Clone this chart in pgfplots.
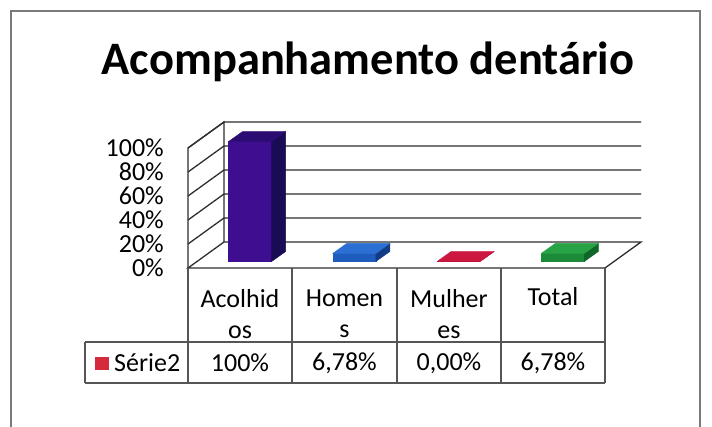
\documentclass[border=0pt]{standalone}
\usepackage{pgfplots}
\pgfplotsset{compat=1.18}
\usepackage{fontspec}
\setmainfont{Carlito}
\definecolor{gridc}{HTML}{2E2E2E}
\definecolor{framec}{HTML}{7A7A7A}
\definecolor{tabc}{HTML}{555555}
\definecolor{fA}{HTML}{3D0E8F}
\definecolor{sA}{HTML}{1A0B55}
\definecolor{tA}{HTML}{2B0C72}
\definecolor{fB}{HTML}{1E5CBE}
\definecolor{sB}{HTML}{123D86}
\definecolor{tB}{HTML}{2C6FD2}
\definecolor{fC}{HTML}{B8102F}
\definecolor{sC}{HTML}{8A0A22}
\definecolor{tC}{HTML}{CC1840}
\definecolor{fD}{HTML}{1C8A38}
\definecolor{sD}{HTML}{106528}
\definecolor{tD}{HTML}{27A245}
\definecolor{legred}{HTML}{D42A3C}
\pgfdeclareplotmark{nothing}{}
\pgfplotsset{
  cuboid/.style n args={3}{
    scatter, only marks, mark=nothing,
    visualization depends on={rawy \as \barval},
    scatter/@pre marker code/.code={%
      \pgfmathsetmacro\yb{6.5-\barval*1.2}%
      \pgfmathsetmacro\yc{16.5-\barval*1.2}%
      \fill[#1] (-11.5pt,\yb pt) rectangle (31.5pt,6.5pt);
      \fill[#2] (31.5pt,\yb pt) -- (45.5pt,\yc pt) -- (45.5pt,16.5pt) -- (31.5pt,6.5pt) -- cycle;
      \fill[#3] (-11.5pt,6.5pt) -- (31.5pt,6.5pt) -- (45.5pt,16.5pt) -- (2.5pt,16.5pt) -- cycle;
    },
    scatter/@post marker code/.code={},
  }
}
\begin{document}
\begin{tikzpicture}[x=1pt,y=1pt]
\useasboundingbox (0,0) rectangle (712,426);
\fill[white] (0,0) rectangle (712,426);
\draw[line width=2pt, framec] (11,-10) -- (11,415) -- (700,415) -- (700,-10);
\node[font=\fontsize{46.5}{50}\selectfont\bfseries] at (368,426-62) {Acompanhamento dentário};
% walls and floor
\begin{scope}[gridc, line width=1.3pt]
\draw (188,158) -- (605,158) -- (641,184) -- (224,184) -- cycle;
\draw (188,158) -- (188,278) -- (224,304) -- (224,184);
\foreach \v in {20,40,60,80,100} {
  \draw (188,158+1.2*\v) -- (224,184+1.2*\v) -- (641,184+1.2*\v);
}
\end{scope}
\begin{axis}[
  at={(188pt,158pt)}, anchor=south west,
  x=104.25pt, y=1.2pt,
  xmin=0, xmax=4, ymin=0, ymax=100,
  clip=false,
  axis x line=none,
  axis y line*=left,
  y axis line style={draw=none},
  ytick={0,20,...,100},
  major tick length=0pt,
  yticklabel={\pgfmathprintnumber{\tick}\%},
  yticklabel style={font=\fontsize{26}{26}\selectfont, anchor=east, inner sep=0pt, xshift=-24pt},
  /pgf/number format/assume math mode=true,
]
\addplot[cuboid={fA}{sA}{tA}] coordinates {(0.5,100)};
\addplot[cuboid={fB}{sB}{tB}] coordinates {(1.5,6.78)};
\addplot[cuboid={fC}{sC}{tC}] coordinates {(2.5,0)};
\addplot[cuboid={fD}{sD}{tD}] coordinates {(3.5,6.78)};
\end{axis}
% data table
\begin{scope}[tabc, line width=1.3pt]
\draw (188,158) -- (188,43);
\draw (292,158) -- (292,43);
\draw (397,158) -- (397,43);
\draw (501,158) -- (501,43);
\draw (605,158) -- (605,43);
\draw (85,84) -- (605,84);
\draw (85,43) -- (605,43);
\draw (85,84) -- (85,43);
\end{scope}
\begin{scope}[font=\fontsize{26}{31}\selectfont]
\node[align=center] at (240,112) {Acolhid\\os};
\node[align=center] at (344.5,112) {Homen\\s};
\node[align=center] at (449,112) {Mulher\\es};
\node at (553,129) {Total};
\node at (240,63) {100\%};
\node at (344.5,63) {6,78\%};
\node at (449,63) {0,00\%};
\node at (553,63) {6,78\%};
\fill[legred] (95,56) rectangle (109,69);
\node[anchor=west, inner sep=0pt] at (114,63) {Série2};
\end{scope}
\end{tikzpicture}
\end{document}
